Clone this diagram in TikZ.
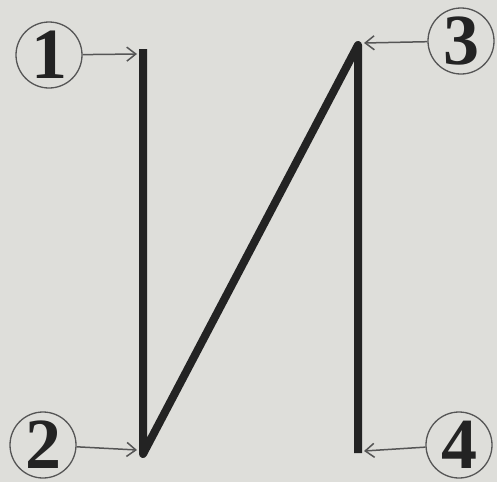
\documentclass[tikz,border=0pt]{standalone}
\usepackage{fontspec}
\setmainfont{Liberation Serif}
\usetikzlibrary{arrows.meta}
\definecolor{paper}{RGB}{222,222,218}
\definecolor{ink}{RGB}{35,35,35}
\definecolor{thin}{RGB}{85,85,85}
\begin{document}
\begin{tikzpicture}[x=1pt,y=-1pt,
  stroke/.style={line width=8pt, draw=ink, line join=round},
  num/.style={circle, draw=thin, line width=1.3pt, minimum size=66pt, inner sep=0pt,
    font=\fontsize{72}{72}\selectfont\bfseries, text=ink},
  pointer/.style={draw=thin, line width=1.5pt, -{Straight Barb[length=9pt,width=14pt,line width=1.5pt]}}]
\fill[paper] (0,0) rectangle (497,482);
\useasboundingbox (0,0) rectangle (497,482);
\coordinate (p1) at (143,49);
\coordinate (p2) at (143,454);
\coordinate (p3) at (358,45);
\coordinate (p4) at (358,453);
\draw[stroke] (p1) -- (p2) -- (p3) -- (p4);
\node[num] (n1) at (49,55) {1};
\node[num] (n2) at (43,445) {2};
\node[num] (n3) at (461,41) {3};
\node[num] (n4) at (459,445) {4};
\coordinate (a1) at (137,54);
\coordinate (a2) at (137,450);
\coordinate (a3) at (364,43);
\coordinate (a4) at (364,451);
\draw[pointer] (n1) -- (a1);
\draw[pointer] (n2) -- (a2);
\draw[pointer] (n3) -- (a3);
\draw[pointer] (n4) -- (a4);
\end{tikzpicture}
\end{document}
